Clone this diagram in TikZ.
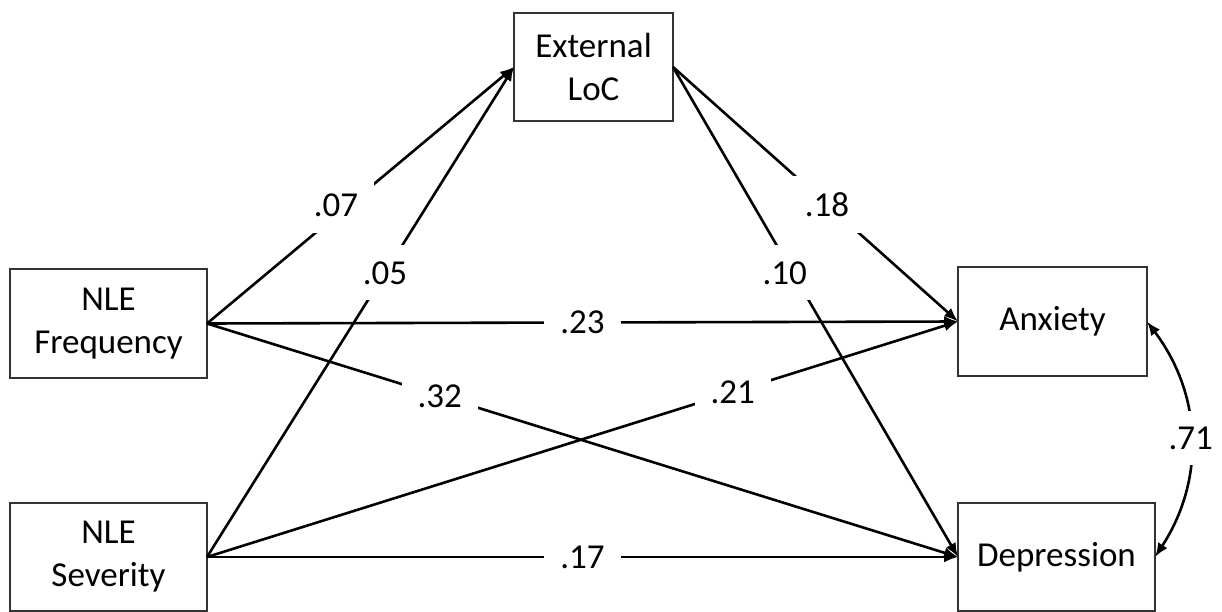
\documentclass[tikz,border=0pt]{standalone}
\usepackage{fontspec}
\setmainfont{Carlito}
\usetikzlibrary{arrows.meta}
\begin{document}
\begin{tikzpicture}[x=1pt,y=-1pt,
  varbox/.style={draw=black!80, line width=1.4pt, fill=white, align=center,
    font=\fontsize{35}{43}\selectfont, inner sep=0pt, outer sep=0pt},
  path/.style={line width=2.6pt, -{Latex[length=14pt,width=11pt]}},
  coef/.style={fill=white, inner xsep=16pt, inner ysep=16pt,
    font=\fontsize{35}{43}\selectfont}]
\useasboundingbox (0,0) rectangle (1222,612);
\node[varbox, minimum width=159pt, minimum height=108pt] (loc) at (593.5,67) {External\\LoC};
\node[varbox, minimum width=197pt, minimum height=109pt] (freq) at (108.5,323.5) {NLE\\Frequency};
\node[varbox, minimum width=197pt, minimum height=108pt] (sev) at (108.5,557) {NLE\\Severity};
\node[varbox, minimum width=189pt, minimum height=109pt] (anx) at (1052.5,321.5) {Anxiety};
\node[varbox, minimum width=197pt, minimum height=108pt] (dep) at (1056.5,557) {Depression};

\draw[path] (freq.east) -- node[coef, pos=0.42, yshift=10pt] (c07) {.07} (loc.west);
\draw[path] (sev.east) -- node[coef, pos=0.58] (c05) {.05} (loc.west);
\draw[path] (loc.east) -- node[coef, pos=0.54] (c18) {.18} (anx.west);
\draw[path] (loc.east) -- node[coef, pos=0.42, xshift=-8pt] (c10) {.10} (dep.west);
\draw[path] (freq.east) -- node[coef, pos=0.5] (c23) {.23} (anx.west);
\draw[path] (freq.east) -- node[coef, pos=0.31] (c32) {.32} (dep.west);
\draw[path] (sev.east) -- node[coef, pos=0.70] (c21) {.21} (anx.west);
\draw[path] (sev.east) -- node[coef, pos=0.5] (c17) {.17} (dep.west);
\draw[line width=2.6pt, {Latex[length=14pt,width=11pt]}-{Latex[length=14pt,width=11pt]}]
  (anx.east) to[bend left=35] node[coef, inner xsep=6pt, midway] (c71) {.71} (dep.east);
\end{tikzpicture}
\end{document}
